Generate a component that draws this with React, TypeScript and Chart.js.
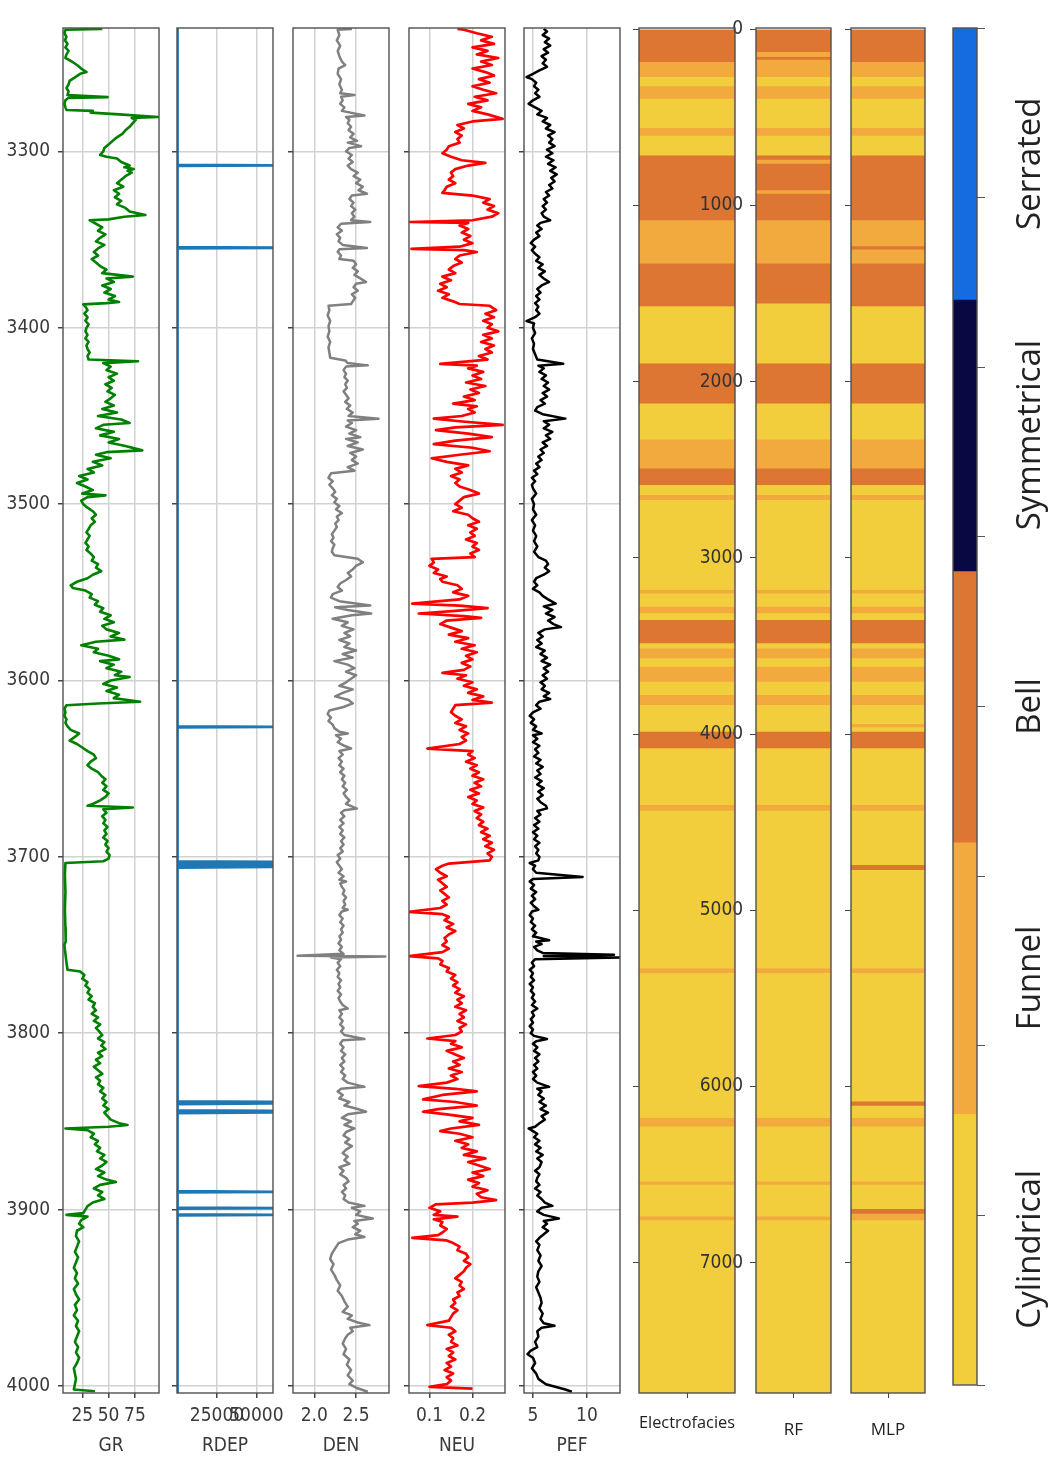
import React, { useEffect, useRef } from "react";
import { Chart, registerables } from "chart.js";
Chart.register(...registerables);

// ---------------- data ----------------
const depthTicks = [3300, 3400, 3500, 3600, 3700, 3800, 3900, 4000];
const grTicks = [25, 50, 75];
const rdepTicks = [25000, 50000];
const denTicks = [2.0, 2.5];
const neuTicks = [0.1, 0.2];
const pefTicks = [5, 10];
const trackTitles = ["GR", "RDEP", "DEN", "NEU", "PEF"];

const grPoints = [
[3230.5,44],[3231,9],[3233,8],[3235,10],[3237,8.5],[3239,11],[3241,9],[3243,12],[3245,10],[3247,9],
[3249,15],[3251,20],[3253,24],[3255,29],[3256,23],[3258,18],[3260,13],[3262,12],[3264,10],[3266,12],
[3268,11],[3269.2,49],[3269.6,12],[3271,9],[3273,8],[3275,9],[3276.5,10],[3277,35],[3278,33],[3279,60],
[3280.5,97],[3281,72],[3282,76],[3284,73],[3286,70],[3288,66],[3290,63],[3292,58],[3294,54],[3296,50],
[3298,46],[3300,45],[3302,42],[3303,48],[3304,58],[3306,62],[3308,70],[3309,65],[3310,74],[3311,68],
[3312,72],[3314,66],[3316,62],[3318,58],[3320,64],[3322,55],[3324,60],[3326,56],[3328,62],[3330,58],
[3332,66],[3334,70],[3336,85],[3337,65],[3338.5,50],[3339,32],[3341,38],[3343,44],[3345,40],[3347,47],
[3349,42],[3351,38],[3353,46],[3355,40],[3357,36],[3359,40],[3361,34],[3363,38],[3365,42],[3367,48],
[3369,44],[3371,73],[3372,48],[3374,55],[3376,44],[3378,52],[3380,46],[3382,56],[3384,50],[3385.4,60],
[3386,48],[3386.7,26],[3388,28],[3390,30],[3392,27],[3394,30],[3396,28],[3398,31],[3400,29],[3402,28],
[3404,30],[3406,28],[3408,31],[3410,29],[3412,30],[3414,32],[3416,30],[3418,31],[3419,78],[3420,45],
[3422,52],[3424,48],[3426,58],[3428,50],[3430,55],[3432,47],[3434,53],[3436,49],[3438,56],[3440,52],
[3442,47],[3444,55],[3446,44],[3448,58],[3450,40],[3452,62],[3454,70],[3455,45],[3457,38],[3459,55],
[3461,42],[3463,60],[3465,50],[3467,66],[3469.5,82],[3470.5,48],[3472,38],[3474,52],[3476,35],[3478,44],
[3480,30],[3482,36],[3484,22],[3486,30],[3488,20],[3490,28],[3492,35],[3494,25],[3495,47],[3496,30],
[3498,24],[3500,26],[3502,30],[3504,35],[3506,38],[3508,34],[3510,37],[3512,33],[3514,31],[3516,29],
[3518,32],[3520,30],[3522,28],[3524,31],[3526,29],[3528,33],[3530,36],[3532,34],[3534,40],[3536,38],
[3538,43],[3540,35],[3542,30],[3544,20],[3546,14],[3547.5,16],[3549,28],[3551,34],[3553,32],[3555,40],
[3557,37],[3559,45],[3561,42],[3563,52],[3565,46],[3567,55],[3569,44],[3571,48],[3573,60],[3575,52],
[3576.8,65],[3578,38],[3580,24],[3582,40],[3584,36],[3586,50],[3588,60],[3589,42],[3591,55],[3593,48],
[3595,62],[3597,56],[3598,70],[3600,52],[3602,45],[3604,58],[3606,48],[3608,60],[3610,55],[3612,80],
[3613,40],[3614,10],[3616,8],[3618,9],[3620,8],[3622,10],[3624,9],[3626,11],[3628,14],[3630,22],
[3632,18],[3634,13],[3636,20],[3638,25],[3640,30],[3642,36],[3644,38],[3646,33],[3648,30],[3650,34],
[3652,40],[3654,43],[3656,47],[3658,44],[3660,48],[3662,45],[3664,50],[3666,47],[3668,42],[3670,35],
[3671,30],[3672,73],[3673,45],[3675,48],[3677,44],[3679,47],[3681,45],[3683,49],[3685,46],[3687,48],
[3689,45],[3691,49],[3693,47],[3695,50],[3697,48],[3699,51],[3701,50],[3702.5,45],[3703.5,9],[3710,8.5],
[3720,9],[3730,8.5],[3740,9],[3746,9.5],[3748,9],[3750,8],[3755,9],[3760,10],[3764,11],[3765,23],
[3767,27],[3769,25],[3771,30],[3773,28],[3775,32],[3777,30],[3779,34],[3781,31],[3783,37],[3785,35],
[3787,38],[3789,34],[3791,40],[3793,36],[3795,42],[3797,38],[3799,41],[3801,44],[3803,40],[3805,46],
[3807,43],[3809,47],[3811,40],[3813,44],[3815,38],[3817,42],[3819,36],[3821,40],[3823,44],[3825,38],
[3827,42],[3829,40],[3831,45],[3833,42],[3835,47],[3837,44],[3839,48],[3841,45],[3843,50],[3845,46],
[3847,49],[3849,52],[3851,60],[3852,68],[3853,50],[3854,9],[3855,30],[3857,36],[3859,33],[3861,40],
[3863,37],[3865,42],[3867,39],[3869,46],[3871,42],[3873,48],[3875,44],[3877,38],[3879,46],[3881,40],
[3883,48],[3884.3,57],[3886,42],[3888,36],[3890,44],[3892,40],[3894,46],[3896,35],[3898,30],[3900,28],
[3902,26],[3903,10],[3904,30],[3906,24],[3908,22],[3910,26],[3912,20],[3915,19],[3918,22],[3921,20],
[3924,18],[3927,21],[3930,19],[3933,17],[3936,20],[3939,18],[3942,21],[3945,17],[3948,19],[3951,22],
[3954,18],[3957,20],[3960,17],[3963,21],[3966,19],[3969,22],[3972,20],[3975,18],[3978,21],[3981,19],
[3984,22],[3987,20],[3990,17],[3993,18],[3996,19],[3999,18],[4002,17],[4003,37]
];

const rdepPoints = [
[3230.5,1],[3307.6,1],[3307.9,60000],[3308.2,1],[3354.3,1],[3354.6,60000],[3354.9,1],
[3626.0,1],[3626.3,60000],[3626.6,1],[3702.6,1],[3702.9,60000],[3703.2,1],[3703.7,60000],[3704.2,1],
[3704.6,60000],[3705.1,1],[3705.6,60000],[3706.1,1],[3838.7,1],[3839.0,60000],[3839.4,1],[3839.8,60000],
[3840.2,1],[3843.8,1],[3844.1,60000],[3844.5,1],[3844.9,60000],[3845.3,1],[3889.6,1],[3889.9,60000],
[3890.2,1],[3898.9,1],[3899.2,60000],[3899.5,1],[3902.7,1],[3903.0,60000],[3903.3,1],[4003.5,1]
];

const denPoints = [
[3230.5,2.45],[3231,2.28],[3234,2.30],[3237,2.27],[3240,2.31],[3243,2.28],[3246,2.30],[3249,2.33],[3251,2.37],[3253,2.29],
[3256,2.28],[3259,2.32],[3262,2.30],[3265,2.33],[3267,2.31],[3268,2.48],[3269,2.32],[3271,2.34],[3273,2.31],[3275,2.36],
[3277,2.33],[3279.6,2.60],[3280.5,2.38],[3282,2.42],[3284,2.40],[3286,2.44],[3288,2.41],[3290,2.47],[3292,2.43],[3294,2.51],
[3295,2.40],[3297,2.56],[3298,2.42],[3300,2.38],[3302,2.45],[3304,2.41],[3306,2.46],[3308,2.40],[3310,2.44],[3312,2.52],
[3314,2.47],[3316,2.55],[3318,2.50],[3320,2.58],[3322,2.53],[3324,2.63],[3325,2.45],[3327,2.42],[3329,2.47],[3331,2.44],
[3333,2.49],[3335,2.45],[3337,2.48],[3339,2.44],[3340,2.67],[3341,2.32],[3343,2.28],[3345,2.33],[3347,2.27],[3349,2.31],
[3351,2.29],[3353,2.34],[3354.8,2.63],[3355.5,2.30],[3357,2.28],[3359,2.32],[3361,2.30],[3362,2.47],[3364,2.50],[3366,2.46],
[3368,2.52],[3370,2.48],[3372,2.55],[3374,2.62],[3375,2.50],[3377,2.47],[3379,2.52],[3381,2.45],[3383,2.49],[3385,2.46],
[3386.5,2.44],[3387.5,2.17],[3390,2.18],[3393,2.16],[3396,2.19],[3399,2.17],[3402,2.18],[3405,2.16],[3408,2.19],[3411,2.17],
[3414,2.18],[3417,2.19],[3418.5,2.37],[3420,2.40],[3421.3,2.64],[3422,2.38],[3424,2.35],[3426,2.38],[3428,2.36],[3430,2.40],
[3432,2.37],[3434,2.39],[3436,2.35],[3438,2.38],[3440,2.41],[3442,2.37],[3444,2.43],[3446,2.39],[3448,2.46],[3450,2.41],
[3451.5,2.77],[3452.5,2.40],[3454,2.45],[3456,2.38],[3458,2.50],[3460,2.42],[3462,2.55],[3463,2.38],[3465,2.52],[3467,2.40],
[3469,2.58],[3471,2.43],[3473,2.50],[3475,2.45],[3477,2.52],[3479,2.40],[3481,2.48],[3482.5,2.20],[3485,2.17],[3487,2.22],
[3489,2.18],[3491,2.22],[3493,2.25],[3495,2.21],[3497,2.27],[3499,2.24],[3501,2.30],[3503,2.26],[3505,2.33],[3507,2.27],
[3509,2.29],[3511,2.25],[3513,2.27],[3515,2.24],[3517,2.21],[3519,2.23],[3521,2.20],[3523,2.24],[3525,2.22],[3527,2.21],
[3529,2.24],[3531,2.52],[3533,2.58],[3535,2.50],[3537,2.46],[3539,2.40],[3541,2.44],[3543,2.38],[3545,2.31],[3547,2.28],
[3549,2.33],[3551,2.22],[3553,2.20],[3555,2.30],[3557.4,2.67],[3558.5,2.25],[3560,2.40],[3562,2.68],[3563,2.45],[3565,2.22],
[3567,2.40],[3569,2.33],[3571,2.47],[3573,2.36],[3575,2.43],[3577,2.30],[3579,2.42],[3581,2.36],[3583,2.50],[3585,2.34],
[3587,2.46],[3589,2.24],[3591,2.40],[3593,2.48],[3595,2.38],[3597,2.50],[3599,2.44],[3601,2.38],[3603,2.30],[3605,2.46],
[3607,2.34],[3609,2.25],[3611,2.41],[3613,2.46],[3615,2.35],[3617,2.18],[3619,2.16],[3621,2.20],[3623,2.17],[3625,2.22],
[3627,2.24],[3629,2.30],[3630,2.40],[3631,2.26],[3633,2.32],[3635,2.28],[3637,2.36],[3638.5,2.44],[3640,2.30],[3642,2.34],
[3644,2.29],[3646,2.33],[3648,2.30],[3650,2.35],[3652,2.31],[3654,2.36],[3656,2.33],[3658,2.37],[3660,2.34],[3662,2.39],
[3664,2.35],[3666,2.38],[3668,2.42],[3670,2.38],[3672.6,2.51],[3673.5,2.36],[3675,2.32],[3677,2.36],[3679,2.31],[3681,2.35],
[3683,2.30],[3685,2.34],[3687,2.31],[3689,2.36],[3691,2.32],[3693,2.35],[3695,2.31],[3697,2.34],[3699,2.28],[3701,2.31],
[3703,2.27],[3705,2.30],[3707,2.33],[3709,2.29],[3711,2.35],[3713,2.30],[3714,2.38],[3715,2.31],[3717,2.33],[3719,2.36],
[3721,2.34],[3723,2.38],[3725,2.35],[3727,2.37],[3729,2.34],[3730,2.40],[3731,2.33],[3733,2.30],[3735,2.34],[3737,2.31],
[3739,2.35],[3741,2.32],[3743,2.34],[3745,2.30],[3747,2.32],[3749,2.29],[3751,2.33],[3753,2.30],[3755,2.35],[3756,1.80],
[3756.5,2.85],[3757,2.20],[3758,2.32],[3760,2.28],[3762,2.31],[3764,2.27],[3766,2.30],[3768,2.28],[3770,2.32],[3772,2.29],
[3774,2.31],[3776,2.28],[3778,2.32],[3780,2.29],[3782,2.31],[3784,2.34],[3786,2.40],[3787,2.30],[3789,2.33],[3791,2.30],
[3793,2.34],[3795,2.31],[3797,2.35],[3799,2.32],[3801,2.36],[3803.3,2.60],[3804,2.34],[3806,2.31],[3808,2.35],[3810,2.32],
[3812,2.37],[3814,2.33],[3816,2.36],[3818,2.31],[3820,2.35],[3822,2.32],[3824,2.37],[3826,2.34],[3828,2.40],[3830.4,2.60],
[3831.5,2.32],[3833,2.28],[3835,2.34],[3837,2.30],[3839,2.42],[3841,2.36],[3843,2.52],[3844.5,2.62],[3846,2.40],[3848,2.33],
[3850,2.44],[3852,2.36],[3854,2.48],[3856,2.38],[3858,2.35],[3860,2.42],[3862,2.37],[3864,2.45],[3866,2.38],[3868,2.34],
[3870,2.40],[3872,2.36],[3874,2.42],[3876,2.30],[3878,2.35],[3880,2.31],[3882,2.38],[3884,2.41],[3886,2.35],[3888,2.38],
[3890,2.33],[3892,2.37],[3894,2.35],[3896,2.41],[3897.9,2.60],[3899,2.45],[3901,2.55],[3903,2.50],[3905,2.70],[3906.5,2.48],
[3908,2.52],[3910,2.46],[3912,2.55],[3914,2.49],[3915.5,2.60],[3917,2.40],[3919,2.29],[3922,2.25],[3925,2.21],[3928,2.19],
[3931,2.23],[3934,2.20],[3937,2.24],[3940,2.27],[3943,2.31],[3946,2.28],[3949,2.33],[3952,2.36],[3955,2.40],[3958,2.34],
[3960,2.45],[3962,2.40],[3964,2.52],[3965.5,2.66],[3967,2.43],[3969,2.46],[3971,2.40],[3973,2.37],[3976,2.34],[3979,2.38],
[3982,2.35],[3985,2.42],[3988,2.39],[3991,2.44],[3994,2.40],[3997,2.46],[3999,2.42],[4001,2.50],[4003.3,2.64]
];

const neuPoints = [
[3230.5,0.165],[3231,0.18],[3233,0.21],[3235,0.245],[3237,0.22],[3239,0.25],[3241,0.20],[3243,0.235],[3245,0.21],[3247,0.26],
[3249,0.22],[3251,0.245],[3253,0.20],[3255,0.23],[3257,0.25],[3259,0.215],[3261,0.24],[3263,0.20],[3265,0.225],[3267,0.255],
[3269,0.205],[3271,0.235],[3273,0.19],[3275,0.22],[3277,0.20],[3279,0.235],[3281.5,0.27],[3283,0.20],[3285,0.165],[3287,0.18],
[3289,0.16],[3291,0.175],[3293,0.165],[3295,0.17],[3297,0.145],[3299,0.14],[3301,0.13],[3303,0.15],[3305,0.175],[3306.5,0.23],
[3308,0.19],[3310,0.16],[3312,0.15],[3314,0.155],[3316,0.145],[3318,0.16],[3320,0.14],[3322,0.135],[3323.5,0.13],[3325,0.20],
[3327,0.24],[3329,0.225],[3331,0.25],[3333,0.235],[3335,0.26],[3337,0.245],[3339,0.20],[3340,0.055],[3340.5,0.19],[3342,0.17],
[3344,0.19],[3346,0.175],[3348,0.195],[3350,0.18],[3352,0.20],[3354,0.17],[3355.2,0.058],[3356,0.18],[3357,0.21],[3359,0.17],
[3361,0.16],[3363,0.175],[3365,0.155],[3367,0.145],[3369,0.16],[3371,0.13],[3373,0.15],[3375,0.125],[3377,0.14],[3379,0.12],
[3381,0.145],[3383,0.13],[3385,0.155],[3386.5,0.17],[3387.5,0.24],[3390,0.255],[3392,0.23],[3394,0.25],[3396,0.225],[3398,0.245],
[3400,0.235],[3402,0.26],[3404,0.225],[3406,0.245],[3408,0.22],[3410,0.25],[3412,0.23],[3414,0.245],[3416,0.215],[3418,0.235],
[3420.4,0.125],[3421.5,0.21],[3423,0.19],[3425,0.225],[3427,0.20],[3429,0.22],[3431,0.185],[3433,0.23],[3435,0.195],[3437,0.215],
[3439,0.18],[3441,0.205],[3443,0.155],[3444.5,0.21],[3446,0.19],[3448,0.205],[3450,0.175],[3451.5,0.11],[3453,0.17],[3455,0.27],
[3456.5,0.16],[3458,0.115],[3460,0.19],[3462,0.245],[3464,0.16],[3466,0.11],[3468,0.20],[3470,0.24],[3472,0.17],[3474,0.105],
[3476,0.14],[3478,0.19],[3480,0.16],[3482,0.175],[3484,0.15],[3486,0.17],[3488,0.16],[3490,0.17],[3492,0.195],[3494,0.215],
[3496,0.18],[3498,0.17],[3500,0.16],[3502,0.175],[3504,0.155],[3506,0.19],[3508,0.20],[3510,0.215],[3512,0.19],[3514,0.21],
[3516,0.195],[3518,0.205],[3520,0.185],[3522,0.21],[3524,0.20],[3526,0.215],[3528,0.195],[3530,0.205],[3531,0.105],[3533,0.11],
[3535,0.10],[3537,0.12],[3539,0.11],[3541,0.14],[3542.5,0.125],[3544,0.13],[3546,0.165],[3548,0.175],[3550,0.155],[3552,0.19],
[3554,0.17],[3556.4,0.06],[3557.5,0.17],[3559,0.235],[3560.5,0.16],[3562,0.075],[3563.5,0.18],[3564.5,0.22],[3566,0.14],[3568,0.125],
[3570,0.15],[3572,0.175],[3574,0.145],[3576,0.19],[3578,0.16],[3580,0.205],[3582,0.175],[3584,0.21],[3586,0.185],[3588,0.20],
[3590,0.175],[3592,0.195],[3594,0.18],[3595.7,0.13],[3597,0.185],[3599,0.165],[3601,0.20],[3603,0.18],[3605,0.21],[3607,0.19],
[3609,0.225],[3611,0.20],[3612.5,0.245],[3614,0.16],[3616,0.155],[3618,0.15],[3620,0.16],[3622,0.175],[3624,0.16],[3626,0.185],
[3628,0.17],[3630,0.19],[3632,0.175],[3634,0.185],[3636,0.17],[3638.6,0.095],[3640,0.20],[3642,0.19],[3644,0.205],[3646,0.185],
[3648,0.21],[3650,0.195],[3652,0.215],[3654,0.20],[3656,0.225],[3658,0.205],[3660,0.22],[3662,0.195],[3664,0.215],[3666,0.19],
[3668,0.21],[3670,0.20],[3672,0.225],[3674,0.205],[3676,0.22],[3678,0.21],[3680,0.225],[3682,0.215],[3684,0.235],[3686,0.22],
[3688,0.24],[3690,0.225],[3692,0.245],[3694,0.23],[3696,0.25],[3698,0.235],[3700,0.245],[3702,0.24],[3703.8,0.145],[3705,0.13],
[3707,0.115],[3709,0.125],[3711,0.14],[3713,0.12],[3715,0.13],[3717,0.14],[3719,0.125],[3721,0.135],[3723,0.145],[3725,0.13],
[3727,0.14],[3729,0.125],[3731.2,0.053],[3732.5,0.13],[3734,0.145],[3736,0.135],[3738,0.155],[3740,0.14],[3742,0.16],[3744,0.145],
[3746,0.135],[3748,0.14],[3750,0.13],[3752,0.145],[3754,0.13],[3756.3,0.053],[3757.5,0.12],[3759,0.13],[3761,0.125],[3763,0.145],
[3765,0.14],[3767,0.16],[3769,0.15],[3771,0.165],[3773,0.155],[3775,0.17],[3777,0.16],[3779,0.18],[3781,0.165],[3783,0.175],
[3785,0.16],[3787,0.185],[3789,0.17],[3791,0.18],[3793,0.165],[3795,0.185],[3797,0.17],[3799,0.175],[3801,0.16],[3803,0.095],
[3804.5,0.16],[3806,0.15],[3808,0.175],[3810,0.14],[3812,0.16],[3814,0.18],[3816,0.155],[3818,0.17],[3820,0.145],[3822,0.175],
[3824,0.15],[3826,0.165],[3828,0.14],[3830,0.075],[3831.5,0.16],[3833,0.21],[3835,0.13],[3837.5,0.085],[3839,0.16],[3841,0.21],
[3843,0.12],[3844.5,0.085],[3846,0.14],[3848,0.20],[3850,0.17],[3852,0.215],[3854,0.15],[3855.5,0.125],[3857,0.17],[3859,0.20],
[3861,0.16],[3863,0.19],[3865,0.175],[3867,0.21],[3869,0.18],[3871,0.23],[3873,0.19],[3875,0.215],[3877,0.24],[3879,0.20],
[3881,0.225],[3883,0.19],[3885,0.215],[3887,0.20],[3889,0.235],[3891,0.21],[3893,0.22],[3894.6,0.255],[3896,0.20],[3897,0.115],
[3899,0.10],[3901,0.125],[3903,0.11],[3904,0.165],[3905.5,0.11],[3907,0.13],[3909,0.125],[3911,0.14],[3913,0.13],[3914.5,0.12],
[3916,0.06],[3917.5,0.14],[3919,0.155],[3921,0.17],[3923,0.165],[3925,0.185],[3927,0.19],[3929,0.18],[3931,0.195],[3933,0.185],
[3935,0.18],[3937,0.17],[3939,0.16],[3941,0.175],[3943,0.17],[3945,0.18],[3947,0.165],[3949,0.17],[3951,0.155],[3953,0.16],
[3955,0.15],[3957,0.165],[3959,0.155],[3961,0.15],[3963,0.145],[3965.5,0.095],[3967,0.15],[3969,0.16],[3971,0.145],[3973,0.155],
[3975,0.15],[3977,0.165],[3979,0.14],[3981,0.155],[3983,0.145],[3985,0.16],[3987,0.14],[3989,0.15],[3991,0.135],[3993,0.155],
[3995,0.14],[3997,0.15],[3999,0.14],[4000.5,0.10],[4001.5,0.20]
];

const pefPoints = [
[3230.5,6.0],[3232,6.3],[3234,5.9],[3236,6.5],[3238,6.1],[3240,6.6],[3242,6.0],[3244,6.4],[3246,5.8],[3248,6.2],
[3250,5.9],[3252,6.3],[3254,5.6],[3256,5.0],[3257.8,4.4],[3259,4.9],[3261,5.3],[3263,5.1],[3265,5.5],[3267,5.2],
[3269,5.6],[3271,5.0],[3273,4.6],[3275,5.2],[3277,5.8],[3279,5.4],[3281,6.3],[3283,5.9],[3285,6.6],[3287,6.2],
[3289,7.0],[3291,6.4],[3293,6.8],[3295,6.5],[3297,7.0],[3299,6.3],[3301,6.8],[3303,6.2],[3305,6.9],[3307,6.4],
[3309,7.1],[3311,6.6],[3313,7.2],[3315,6.7],[3317,7.0],[3319,6.5],[3321,6.8],[3323,6.2],[3325,6.5],[3327,6.0],
[3329,6.3],[3331,5.9],[3333,6.2],[3335,5.8],[3337,6.0],[3339,6.6],[3340.5,5.7],[3342,5.4],[3344,5.8],[3346,5.3],
[3348,5.6],[3350,5.1],[3352,4.8],[3354,5.2],[3356,4.9],[3358,5.2],[3360,5.6],[3362,5.3],[3364,5.9],[3366,5.5],
[3368,6.1],[3370,5.6],[3372,6.0],[3374,6.5],[3376,5.8],[3378,5.4],[3380,5.7],[3382,5.3],[3384,5.6],[3386,5.2],
[3388,5.5],[3390,5.3],[3392,5.6],[3394,5.2],[3396.2,4.4],[3397.5,5.1],[3400,5.0],[3403,5.2],[3406,4.9],[3409,5.1],
[3412,5.0],[3415,5.2],[3418,5.4],[3420.4,7.8],[3421.5,5.5],[3423,6.0],[3425,5.6],[3427,6.2],[3429,5.8],[3431,6.4],
[3433,6.0],[3435,6.5],[3437,5.9],[3439,6.3],[3441,5.7],[3443,6.1],[3445,5.4],[3447,5.2],[3449,5.9],[3451.5,8.0],
[3453,6.0],[3455,6.5],[3457,6.0],[3459,6.8],[3461,6.2],[3463,6.6],[3465,5.9],[3467,6.3],[3469,5.7],[3471,6.0],
[3473,5.5],[3475,5.8],[3477,5.3],[3479,5.6],[3481,5.1],[3483,5.4],[3485,4.9],[3487,5.2],[3489,4.9],[3491,5.0],
[3494,5.3],[3497,4.9],[3500,5.1],[3503,5.0],[3506,5.3],[3509,4.9],[3512,5.2],[3515,5.0],[3518,5.3],[3521,5.1],
[3524,5.4],[3527,5.1],[3530,5.5],[3532,6.2],[3534,6.4],[3536,6.1],[3538,6.5],[3540,6.0],[3542,5.3],[3544,5.1],
[3546,5.4],[3548,5.0],[3550,5.6],[3552,5.9],[3554,6.4],[3556.4,7.1],[3558,6.0],[3560,6.8],[3562,6.2],[3564,7.0],
[3566,6.4],[3568,6.9],[3569.7,7.6],[3571,6.1],[3573,5.5],[3575,5.9],[3577,5.4],[3579,5.8],[3581,5.3],[3583,6.1],
[3585,5.7],[3587,6.3],[3589,5.8],[3591,6.6],[3593,6.0],[3595,6.4],[3597,5.9],[3599,6.3],[3601,5.7],[3603,6.1],
[3605,5.8],[3607,6.5],[3609,6.0],[3610.5,6.6],[3612,5.6],[3614,5.3],[3616,5.7],[3618,5.0],[3620,4.7],[3622,5.1],
[3624,4.8],[3626,5.3],[3628,5.0],[3630,5.8],[3631,5.0],[3633,5.4],[3635,5.0],[3637,5.6],[3639,5.2],[3641,5.5],
[3643,5.1],[3645,5.7],[3647,5.3],[3649,5.9],[3651,5.4],[3653,5.7],[3655,5.2],[3657,5.8],[3659,5.4],[3661,6.0],
[3663,5.5],[3665,5.9],[3667,5.4],[3669,5.7],[3671,6.2],[3672.5,6.3],[3674,5.4],[3676,5.7],[3678,5.2],[3680,5.6],
[3682,5.1],[3684,5.5],[3686,5.0],[3688,5.4],[3690,5.1],[3692,5.6],[3694,5.2],[3696,5.5],[3698,5.3],[3700,5.6],
[3702,5.5],[3703.5,4.7],[3705,5.2],[3707,5.0],[3709,5.3],[3711.4,9.6],[3712.5,5.0],[3714,4.7],[3716,5.1],[3718,4.8],
[3720,5.3],[3722,4.9],[3724,5.2],[3726,4.8],[3728,5.1],[3730,5.5],[3731,4.9],[3733,4.7],[3735,5.0],[3737,4.8],
[3739,5.2],[3741,4.9],[3743,5.3],[3745,5.0],[3747.3,6.5],[3748,5.3],[3749.5,5.8],[3751,5.1],[3753,5.4],[3754.5,5.9],
[3755.5,12.5],[3756.2,6.0],[3757,13.0],[3758,5.2],[3760,4.9],[3762,5.1],[3764,4.7],[3766,5.0],[3768,4.8],[3770,5.1],
[3772,4.7],[3774,5.0],[3776,4.8],[3778,5.1],[3780,4.9],[3782,5.2],[3784,4.9],[3786,5.4],[3788,4.9],[3790,5.1],
[3792,4.8],[3794,5.0],[3796,4.7],[3798,5.0],[3800,4.8],[3801.5,5.1],[3803.3,6.3],[3804.5,5.3],[3806,5.0],[3808,5.4],
[3810,5.1],[3812,5.6],[3814,5.2],[3816,5.5],[3818,5.1],[3820,5.4],[3822,5.0],[3824,5.3],[3826,5.0],[3828,5.4],
[3830.4,6.5],[3831.5,5.4],[3833,5.8],[3835,5.5],[3837,6.0],[3839,5.6],[3841,6.2],[3843,5.7],[3845,6.4],[3847,5.8],
[3849,6.1],[3851,5.6],[3853,5.2],[3854,4.6],[3855.5,5.0],[3857,5.4],[3859,5.1],[3861,5.6],[3863,5.2],[3865,5.7],
[3867,5.3],[3869,5.9],[3871,5.4],[3873,5.8],[3876,5.6],[3878,5.2],[3880,5.6],[3882,5.4],[3884,5.3],[3886,5.6],
[3888,5.2],[3890,5.7],[3892,5.4],[3894,5.8],[3896,6.1],[3897.9,6.8],[3899,5.8],[3901,5.4],[3903,6.0],[3905,7.4],
[3906.5,6.0],[3908,6.3],[3910,5.9],[3912,6.4],[3914,6.0],[3916,5.6],[3918,5.3],[3920,5.6],[3923,5.4],[3926,5.7],
[3929,5.5],[3932,5.8],[3935,5.5],[3938,5.4],[3941,5.6],[3944,5.3],[3947,5.5],[3950,5.7],[3953,5.8],[3956,5.6],
[3959,5.9],[3962,5.7],[3964.5,6.0],[3965.9,7.0],[3967,5.8],[3969,5.4],[3972,5.5],[3975,5.2],[3978,5.4],[3980,4.8],
[3982,4.5],[3984,5.0],[3987,5.2],[3990,4.9],[3993,5.3],[3996,5.5],[3999,6.2],[4002,8.0],[4003.3,8.6]
];

// facies classes: 0 Cylindrical, 1 Funnel, 2 Bell, 3 Symmetrical, 4 Serrated
const facieNames = ["Cylindrical", "Funnel", "Bell", "Symmetrical", "Serrated"];
const facieColors = ["#f2ce3c", "#f2aa3e", "#dc7632", "#080842", "#146ce0"];
const faciesTicks = [0, 1000, 2000, 3000, 4000, 5000, 6000, 7000];
const faciesEnd = 7740;

const efTops = [0,188,273,326,396,563,606,718,1086,1332,1574,1899,2126,2330,2495,2589,2646,2674,3185,3204,3280,3317,3355,3487,3516,3572,3620,3705,3780,3837,3989,4083,4404,4437,5331,5359,6181,6229,6541,6560,6740,6762];
const efClass = [2,1,0,1,0,1,0,2,1,2,0,2,0,1,2,0,1,0,1,0,1,0,2,0,1,0,1,0,1,0,2,0,1,0,1,0,1,0,1,0,1,0];

const rfTops = [0,131,160,175,273,326,396,563,606,718,742,765,916,935,1086,1332,1559,1899,2126,2330,2495,2589,2646,2674,3185,3204,3280,3317,3355,3487,3516,3572,3620,3705,3780,3837,3989,4083,4404,4437,5331,5359,6181,6229,6541,6560,6740,6762];
const rfClass = [2,1,2,1,0,1,0,1,0,2,1,2,1,2,1,2,0,2,0,1,2,0,1,0,1,0,1,0,2,0,1,0,1,0,1,0,2,0,1,0,1,0,1,0,1,0,1,0];

const mlpTops = [0,188,273,326,396,563,606,718,1086,1234,1252,1332,1574,1899,2126,2330,2495,2589,2646,2674,3185,3204,3280,3317,3355,3487,3516,3572,3620,3705,3780,3837,3945,3964,3989,4083,4404,4437,4745,4774,5331,5359,6087,6112,6181,6229,6541,6560,6698,6724,6762];
const mlpClass = [2,1,0,1,0,1,0,2,1,2,1,2,0,2,0,1,2,0,1,0,1,0,1,0,2,0,1,0,1,0,1,0,1,0,2,0,1,0,2,0,1,0,2,0,1,0,1,0,2,1,0];

const colorbarStart = [0, 0.8, 1.6, 2.4, 3.2];
const colorbarEnd = [0.8, 1.6, 2.4, 3.2, 4.0];
const colorbarTicks = [0, 0.5, 1, 1.5, 2, 2.5, 3, 3.5, 4];
const colorbarLabelPos = [0.4, 1.2, 2.0, 2.8, 3.6];

// ---------------- styling helpers ----------------
const H = 1458;
const NARROW = '"Liberation Sans Narrow", "Arial Narrow", "DejaVu Sans Condensed", "Liberation Sans", sans-serif';
const OPEN = '"Open Sans", "Noto Sans", sans-serif';
const TXT = "#3a3a3a";
const GRID = "#d2d2d2";

const framePlugin = {
  id: "frame",
  afterDraw(chart: any) {
    const { ctx, chartArea: a } = chart;
    ctx.save();
    ctx.strokeStyle = "#505050";
    ctx.lineWidth = 1.4;
    ctx.strokeRect(a.left, a.top, a.right - a.left, a.bottom - a.top);
    ctx.restore();
  },
};

function zeroPad(s: any) {
  s.paddingLeft = 0; s.paddingRight = 0; s.paddingTop = 0; s.paddingBottom = 0;
}

const baseOpts = {
  animation: false,
  responsive: false,
  maintainAspectRatio: false,
  devicePixelRatio: 1,
  events: [],
  plugins: { legend: { display: false }, tooltip: { enabled: false } },
};

interface Track {
  title: string; points: number[][]; color: string; lw: number; min: number; max: number;
  ticks: number[]; fmt: (v: number) => string; left: number; leftW: number; padR: number; showY: boolean;
}

const TRACK_W = 96;
const tracks: Track[] = [
  { title: trackTitles[0], points: grPoints, color: "#008000", lw: 2.6, min: 6.7, max: 97.9, ticks: grTicks, fmt: (v) => String(v), left: 0, leftW: 63, padR: 20, showY: true },
  { title: trackTitles[1], points: rdepPoints, color: "#1f77b4", lw: 2.8, min: -300, max: 60500, ticks: rdepTicks, fmt: (v) => String(v), left: 157, leftW: 20, padR: 28, showY: false },
  { title: trackTitles[2], points: denPoints, color: "#808080", lw: 2.5, min: 1.745, max: 2.894, ticks: denTicks, fmt: (v) => v.toFixed(1), left: 273, leftW: 20, padR: 20, showY: false },
  { title: trackTitles[3], points: neuPoints, color: "#ff0000", lw: 2.7, min: 0.0523, max: 0.2756, ticks: neuTicks, fmt: (v) => v.toFixed(1), left: 389, leftW: 20, padR: 20, showY: false },
  { title: trackTitles[4], points: pefPoints, color: "#000000", lw: 2.5, min: 4.17, max: 13.06, ticks: pefTicks, fmt: (v) => String(v), left: 504, leftW: 20, padR: 20, showY: false },
];

function trackConfig(t: Track): any {
  const data = t.points.map((p) => ({ x: p[1], y: p[0] }));
  return {
    type: "line",
    data: {
      datasets: [{
        data, borderColor: t.color, borderWidth: t.lw, pointRadius: 0, tension: 0,
        fill: false, borderJoinStyle: "round",
      }],
    },
    options: {
      ...baseOpts,
      indexAxis: "y",
      layout: { padding: { top: 28, right: t.padR, left: 0, bottom: 0 } },
      scales: {
        x: {
          type: "linear", position: "bottom", min: t.min, max: t.max,
          afterBuildTicks: (s: any) => { s.ticks = t.ticks.map((v) => ({ value: v })); },
          ticks: { callback: (v: any) => t.fmt(Number(v)), font: { family: NARROW, size: 19 }, color: TXT, padding: 7, maxRotation: 0, minRotation: 0, autoSkip: false },
          grid: { color: GRID, lineWidth: 1.5, tickColor: "#444", tickLength: 5 },
          border: { display: false },
          title: { display: true, text: t.title, font: { family: NARROW, size: 19 }, color: TXT, padding: { top: 0, bottom: 1 } },
          afterFit: (s: any) => { s.height = 65; zeroPad(s); },
        },
        y: {
          type: "linear", position: "left", reverse: true, min: 3230, max: 4004,
          afterBuildTicks: (s: any) => { s.ticks = depthTicks.map((v) => ({ value: v })); },
          ticks: { display: t.showY, callback: (v: any) => String(v), font: { family: NARROW, size: 19 }, color: TXT, padding: 8, autoSkip: false },
          grid: { color: GRID, lineWidth: 1.5, tickColor: "#444", tickLength: 5 },
          border: { display: false },
          afterFit: (s: any) => { s.width = t.leftW; zeroPad(s); },
        },
      },
    },
    plugins: [framePlugin],
  };
}

interface Facies {
  title: string; tops: number[]; cls: number[]; left: number; colW: number; padR: number; titlePad: number; labels: boolean;
}

const faciesCols: Facies[] = [
  { title: "Electrofacies", tops: efTops, cls: efClass, left: 619, colW: 96, padR: 20, titlePad: 25, labels: true },
  { title: "RF", tops: rfTops, cls: rfClass, left: 736, colW: 75, padR: 20, titlePad: 18, labels: false },
  { title: "MLP", tops: mlpTops, cls: mlpClass, left: 831, colW: 74, padR: 20, titlePad: 18, labels: false },
];

function faciesWidth(f: Facies) { return 20 + f.colW + f.padR; }

function faciesConfig(f: Facies): any {
  const data = f.tops.map((s, i) => ({ x: f.title, y: [s, i + 1 < f.tops.length ? f.tops[i + 1] : faciesEnd] }));
  const scales: any = {
    x: {
      type: "category", position: "bottom", offset: true,
      ticks: { display: false },
      grid: { offset: false, drawOnChartArea: false, drawTicks: true, tickLength: 5, tickColor: "#444" },
      border: { display: false },
      title: { display: true, text: f.title, font: { family: OPEN, size: 17 }, color: "#222", padding: { top: 0, bottom: f.titlePad } },
      afterFit: (s: any) => { s.height = 65; zeroPad(s); },
    },
    y: {
      type: "linear", position: "left", reverse: true, min: -7, max: faciesEnd,
      afterBuildTicks: (s: any) => { s.ticks = faciesTicks.map((v) => ({ value: v })); },
      ticks: { display: false },
      grid: { drawOnChartArea: false, drawTicks: true, tickLength: 6, tickColor: "#444" },
      border: { display: false },
      afterFit: (s: any) => { s.width = 20; zeroPad(s); },
    },
  };
  if (f.labels) {
    // index labels drawn over the column, right-aligned just past its right edge
    scales.yl = {
      type: "linear", position: { x: 0.585 }, reverse: true, min: -7, max: faciesEnd,
      afterBuildTicks: (s: any) => { s.ticks = faciesTicks.map((v) => ({ value: v })); },
      ticks: { z: 5, padding: 0, callback: (v: any) => String(v), font: { family: NARROW, size: 19 }, color: "#333", autoSkip: false },
      grid: { display: false, drawTicks: false },
      border: { display: false },
    };
  }
  return {
    type: "bar",
    data: {
      labels: [f.title],
      datasets: [{
        data, backgroundColor: f.cls.map((c) => facieColors[c]), borderWidth: 0,
        barPercentage: 1, categoryPercentage: 1,
      }],
    },
    options: {
      ...baseOpts,
      layout: { padding: { top: 28, right: f.padR, left: 0, bottom: 0 } },
      scales,
    },
    plugins: [framePlugin],
  };
}

const CB_LEFT = 930;
const CB_W = 119;
function colorbarConfig(): any {
  const data = colorbarStart.map((s, i) => ({ x: "cb", y: [s, colorbarEnd[i]] }));
  return {
    type: "bar",
    data: {
      labels: ["cb"],
      datasets: [{ data, backgroundColor: facieColors, borderWidth: 0, barPercentage: 1, categoryPercentage: 1 }],
    },
    options: {
      ...baseOpts,
      layout: { padding: { top: 28, bottom: 73, left: 23, right: 0 } },
      scales: {
        x: { type: "category", display: false },
        y: {
          type: "linear", position: "right", min: 0, max: 4, weight: 0,
          afterBuildTicks: (s: any) => { s.ticks = colorbarTicks.map((v) => ({ value: v })); },
          ticks: { display: false },
          grid: { drawOnChartArea: false, drawTicks: true, tickLength: 8, tickColor: "#555" },
          border: { display: false },
          afterFit: (s: any) => { s.width = 8; zeroPad(s); },
        },
        yl: {
          type: "linear", position: "right", min: 0, max: 4, weight: 1,
          afterBuildTicks: (s: any) => { s.ticks = colorbarLabelPos.map((v) => ({ value: v })); },
          ticks: {
            callback: (_v: any, i: number) => facieNames[i], minRotation: 90, maxRotation: 90,
            crossAlign: "center", padding: -50, font: { family: OPEN, size: 33 }, color: "#222", autoSkip: false,
          },
          grid: { display: false, drawTicks: false },
          border: { display: false },
          afterFit: (s: any) => { s.width = 64; zeroPad(s); },
        },
      },
    },
    plugins: [framePlugin],
  };
}

function ChartCanvas({ left, width, build }: { left: number; width: number; build: () => any }) {
  const ref = useRef<HTMLCanvasElement | null>(null);
  useEffect(() => {
    const chart = new Chart(ref.current as HTMLCanvasElement, build());
    return () => chart.destroy();
  }, []);
  return (
    <canvas ref={ref} width={width} height={H}
      style={{ position: "absolute", left, top: 0, width, height: H }} />
  );
}

export default function App() {
  return (
    <div style={{ position: "absolute", left: 0, top: 0, width: 1049, height: H, background: "#fff", overflow: "hidden" }}>
      {tracks.map((t) => (
        <ChartCanvas key={t.title} left={t.left} width={t.leftW + TRACK_W + t.padR} build={() => trackConfig(t)} />
      ))}
      {faciesCols.map((f) => (
        <ChartCanvas key={f.title} left={f.left} width={faciesWidth(f)} build={() => faciesConfig(f)} />
      ))}
      <ChartCanvas left={CB_LEFT} width={CB_W} build={colorbarConfig} />
    </div>
  );
}
